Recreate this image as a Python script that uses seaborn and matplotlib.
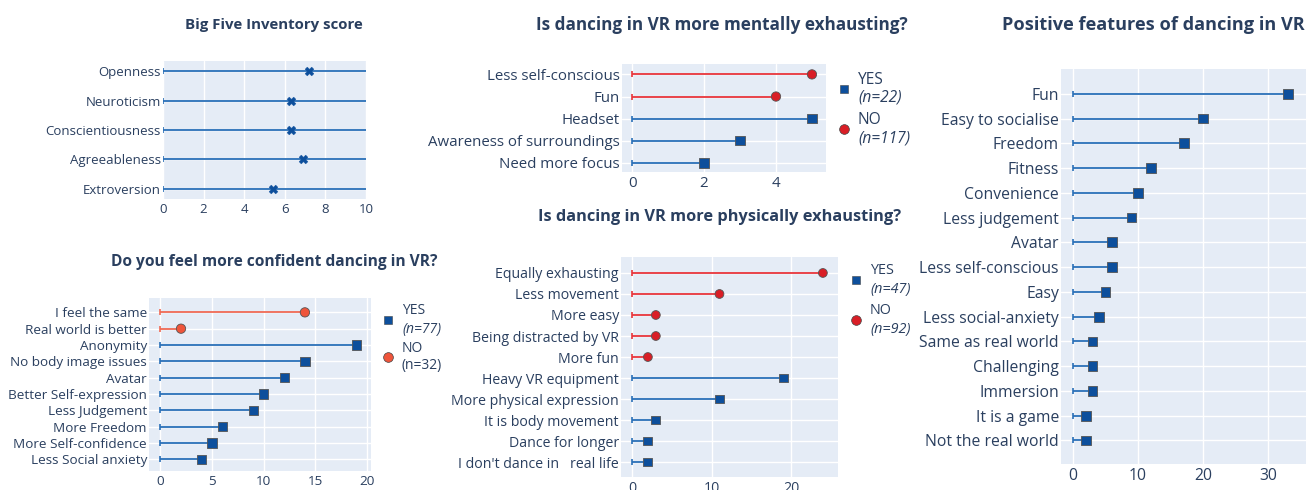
import numpy as np
import pandas as pd
import matplotlib.pyplot as plt
from matplotlib.lines import Line2D
import seaborn as sns

# ------------------------------------------------------------
# Data
# ------------------------------------------------------------
bfi_traits = ['Openness', 'Neuroticism', 'Conscientiousness', 'Agreeableness', 'Extroversion']
bfi_scores = [7.2, 6.3, 6.3, 6.9, 5.4]
bfi_scale_max = 10

conf_items = ['I feel the same', 'Real world is better', 'Anonymity', 'No body image issues',
              'Avatar', 'Better Self-expression', 'Less Judgement', 'More Freedom',
              'More Self-confidence', 'Less Social anxiety']
conf_counts = [14, 2, 19, 14, 12, 10, 9, 6, 5, 4]
conf_groups = ['NO', 'NO', 'YES', 'YES', 'YES', 'YES', 'YES', 'YES', 'YES', 'YES']

mental_items = ['Less self-conscious', 'Fun', 'Headset', 'Awareness of surroundings', 'Need more focus']
mental_counts = [5, 4, 5, 3, 2]
mental_groups = ['NO', 'NO', 'YES', 'YES', 'YES']

phys_items = ['Equally exhausting', 'Less movement', 'More easy', 'Being distracted by VR',
              'More fun', 'Heavy VR equipment', 'More physical expression',
              'It is body movement', 'Dance for longer', "I don't dance in   real life"]
phys_counts = [24, 11, 3, 3, 2, 19, 11, 3, 2, 2]
phys_groups = ['NO', 'NO', 'NO', 'NO', 'NO', 'YES', 'YES', 'YES', 'YES', 'YES']

pos_items = ['Fun', 'Easy to socialise', 'Freedom', 'Fitness', 'Convenience', 'Less judgement',
             'Avatar', 'Less self-conscious', 'Easy', 'Less social-anxiety',
             'Same as real world', 'Challenging', 'Immersion', 'It is a game', 'Not the real world']
pos_counts = [33, 20, 17, 12, 10, 9, 6, 6, 5, 4, 3, 3, 3, 2, 2]

# ------------------------------------------------------------
# Style
# ------------------------------------------------------------
sns.set_style('white')
plt.rcParams['font.family'] = ['Open Sans', 'DejaVu Sans']

W, H = 1306, 490
BG = '#E5ECF6'
TXT = '#2a3f5f'
BLUE_LINE = '#2a70b8'
BLUE_MARK = '#0d4f9c'
RED_LINE = '#e8353b'
RED_MARK = '#d91e26'
ORANGE_LINE = '#ef6a55'
ORANGE_MARK = '#ef553b'

fig = plt.figure(figsize=(W / 100, H / 100), dpi=100)


def px_axes(left, top, right, bottom):
    return fig.add_axes([left / W, 1 - bottom / H, (right - left) / W, (bottom - top) / H])


def fx(x):
    return x / W


def fy(y):
    return 1 - y / H


def lollipop(ax, items, counts, groups, line_cols, mark_cols, markers, msize,
             xlim, pad_top, pad_bot, xticks, fsize):
    df = pd.DataFrame({'item': items, 'count': counts, 'group': groups})
    df['pos'] = np.arange(len(df))
    for g, sub in df.groupby('group'):
        ax.hlines(sub['pos'], 0, sub['count'], color=line_cols[g], lw=1.3, zorder=2)
        ax.plot(np.zeros(len(sub)), sub['pos'], ls='none', marker='|', ms=5,
                mew=1.2, color=line_cols[g], zorder=2)
    sns.scatterplot(data=df, x='count', y='pos', hue='group', style='group',
                    palette=mark_cols, markers=markers, s=msize, linewidth=0.6,
                    edgecolor='#555555', ax=ax, legend=False, zorder=3)
    ax.set_facecolor(BG)
    ax.set_xlim(*xlim)
    ax.set_ylim(len(df) - 1 + pad_bot, -pad_top)
    ax.set_yticks(df['pos'], df['item'])
    ax.set_xticks(xticks)
    ax.grid(True, color='white', lw=1)
    ax.set_axisbelow(True)
    for s in ax.spines.values():
        s.set_visible(False)
    ax.tick_params(length=0, labelsize=fsize, labelcolor=TXT)
    ax.tick_params(axis='y', pad=1.5)
    ax.tick_params(axis='x', pad=3)
    ax.set_xlabel('')
    ax.set_ylabel('')
    return df


def legend(x, y_yes, y_no, n_yes, n_no, yes_col, no_col, no_marker, fsize, italic_no=True):
    fig.add_artist(Line2D([fx(x)], [fy(y_yes)], marker='s', ms=5.5, color=yes_col,
                          mec='#444444', mew=0.4, transform=fig.transFigure))
    fig.add_artist(Line2D([fx(x)], [fy(y_no)], marker=no_marker, ms=7, color=no_col,
                          mec='#444444', mew=0.5, transform=fig.transFigure))
    fig.text(fx(x + 14), fy(y_yes - 9), 'YES', fontsize=fsize, color=TXT, va='center')
    fig.text(fx(x + 14), fy(y_yes + 9), n_yes, fontsize=fsize, color=TXT, va='center',
             style='italic')
    fig.text(fx(x + 14), fy(y_no - 9), 'NO', fontsize=fsize, color=TXT, va='center')
    fig.text(fx(x + 14), fy(y_no + 9), n_no, fontsize=fsize, color=TXT, va='center',
             style='italic' if italic_no else 'normal')


# ------------------------------------------------------------
# 1. Big Five Inventory score
# ------------------------------------------------------------
ax1 = px_axes(163, 61, 366, 199)
bfi = pd.DataFrame({'trait': bfi_traits, 'score': bfi_scores})
bfi['pos'] = np.arange(len(bfi))
ax1.hlines(bfi['pos'], 0, bfi_scale_max, color=BLUE_LINE, lw=1.3, zorder=2)
ax1.plot(np.zeros(len(bfi)), bfi['pos'], ls='none', marker='|', ms=5, mew=1.2,
         color=BLUE_LINE, zorder=2)
sns.scatterplot(data=bfi, x='score', y='pos', marker='X', s=40, color=BLUE_MARK,
                linewidth=0.3, edgecolor=BLUE_MARK, ax=ax1, zorder=3)
ax1.set_facecolor(BG)
ax1.set_xlim(0, bfi_scale_max)
ax1.set_ylim(len(bfi) - 1 + 0.34, -0.34)
ax1.set_yticks(bfi['pos'], bfi['trait'])
ax1.set_xticks(np.arange(0, 11, 2))
ax1.grid(True, color='white', lw=1)
ax1.set_axisbelow(True)
for s in ax1.spines.values():
    s.set_visible(False)
ax1.tick_params(length=0, labelsize=9.5, labelcolor=TXT)
ax1.tick_params(axis='y', pad=1.5)
ax1.tick_params(axis='x', pad=3)
ax1.set_xlabel('')
ax1.set_ylabel('')
fig.text(fx(274), fy(25), 'Big Five Inventory score', ha='center', va='center',
         fontsize=10.8, fontweight='bold', color=TXT)

# ------------------------------------------------------------
# 2. Do you feel more confident dancing in VR?
# ------------------------------------------------------------
ax2 = px_axes(149, 298, 371, 471)
lollipop(ax2, conf_items, conf_counts, conf_groups,
         {'YES': BLUE_LINE, 'NO': ORANGE_LINE}, {'YES': BLUE_MARK, 'NO': ORANGE_MARK},
         {'YES': 's', 'NO': 'o'}, 45, (-1.1, 20.4), 0.88, 0.72, [0, 5, 10, 15, 20], 9.7)
fig.text(fx(274), fy(262), 'Do you feel more confident dancing in VR?', ha='center',
         va='center', fontsize=11.2, fontweight='bold', color=TXT)
legend(388, 320, 357, '(n=77)', '(n=32)', BLUE_MARK, ORANGE_MARK, 'o', 10, italic_no=False)

# ------------------------------------------------------------
# 3. Is dancing in VR more mentally exhausting?
# ------------------------------------------------------------
ax3 = px_axes(622, 64, 826, 172)
lollipop(ax3, mental_items, mental_counts, mental_groups,
         {'YES': BLUE_LINE, 'NO': RED_LINE}, {'YES': BLUE_MARK, 'NO': RED_MARK},
         {'YES': 's', 'NO': 'o'}, 45, (-0.28, 5.39), 0.47, 0.41, [0, 2, 4], 10.8)
fig.text(fx(722), fy(25), 'Is dancing in VR more mentally exhausting?', ha='center',
         va='center', fontsize=12.3, fontweight='bold', color=TXT)
legend(844, 89, 129, '(n=22)', '(n=117)', BLUE_MARK, RED_MARK, 'o', 11.2)

# ------------------------------------------------------------
# 4. Is dancing in VR more physically exhausting?
# ------------------------------------------------------------
ax4 = px_axes(621, 257, 838, 477)
lollipop(ax4, phys_items, phys_counts, phys_groups,
         {'YES': BLUE_LINE, 'NO': RED_LINE}, {'YES': BLUE_MARK, 'NO': RED_MARK},
         {'YES': 's', 'NO': 'o'}, 40, (-1.38, 25.9), 0.76, 0.71, [0, 10, 20], 10.2)
fig.text(fx(720), fy(217), 'Is dancing in VR more physically exhausting?', ha='center',
         va='center', fontsize=11.8, fontweight='bold', color=TXT)
legend(856, 280, 320, '(n=47)', '(n=92)', BLUE_MARK, RED_MARK, 'o', 10.4)

# ------------------------------------------------------------
# 5. Positive features of dancing in VR
# ------------------------------------------------------------
ax5 = px_axes(1061, 69, 1306, 464)
lollipop(ax5, pos_items, pos_counts, ['YES'] * len(pos_items),
         {'YES': BLUE_LINE}, {'YES': BLUE_MARK}, {'YES': 's'}, 50,
         (-1.84, 35.8), 1.0, 0.95, [0, 10, 20, 30], 11.3)
fig.text(fx(1153), fy(25), 'Positive features of dancing in VR', ha='center',
         va='center', fontsize=13.1, fontweight='bold', color=TXT)

fig.savefig('out.png', dpi=100, facecolor='white')
